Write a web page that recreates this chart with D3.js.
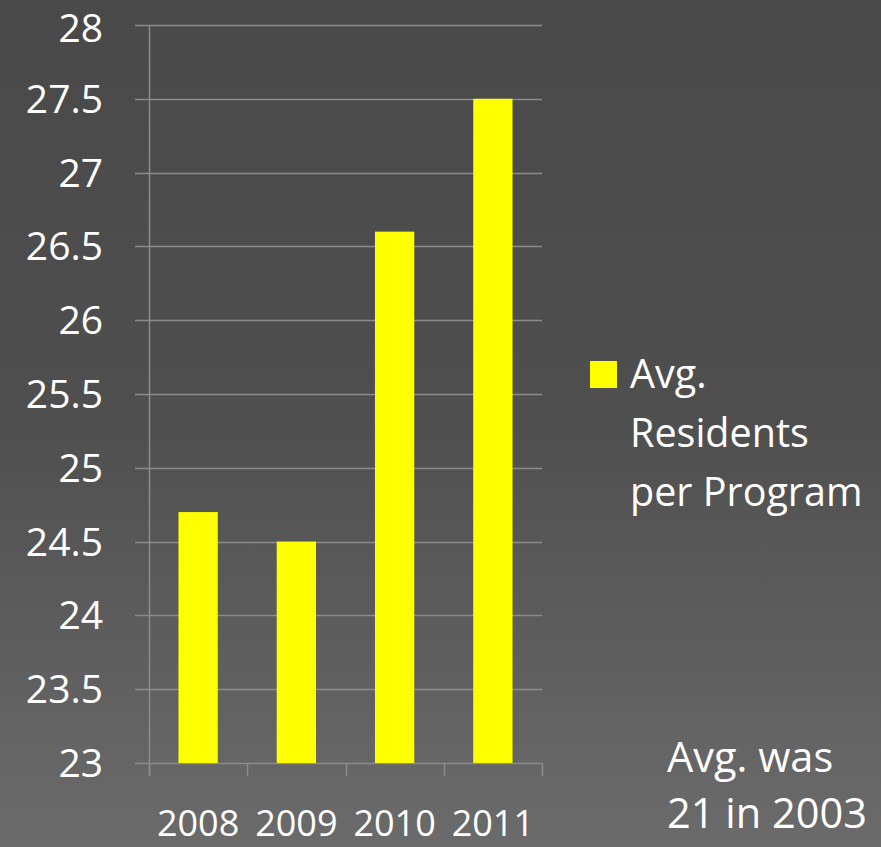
<!DOCTYPE html>
<html>
<head>
<meta charset="utf-8">
<script src="https://cdnjs.cloudflare.com/ajax/libs/d3/7.8.5/d3.min.js"></script>
<style>
  html, body { margin: 0; padding: 0; background: #4a4a4a; }
  svg { display: block; font-family: "Open Sans", "Noto Sans", sans-serif; }
</style>
</head>
<body>
<svg id="chart" width="881" height="847"></svg>
<script>
const years = ['2008', '2009', '2010', '2011'];
const residents = [24.7, 24.5, 26.6, 27.5];
const yTicks = [23, 23.5, 24, 24.5, 25, 25.5, 26, 26.5, 27, 27.5, 28];
const legendLines = ['Avg.', 'Residents', 'per Program'];
const noteLines = ['Avg. was', '21 in 2003'];

const W = 881, H = 847;
const plot = { left: 149, right: 542, top: 25, bottom: 763 };

const svg = d3.select('#chart');

const grad = svg.append('defs').append('linearGradient')
  .attr('id', 'bg').attr('x1', 0).attr('y1', 0).attr('x2', 0).attr('y2', 1);
grad.append('stop').attr('offset', '0%').attr('stop-color', '#494949');
grad.append('stop').attr('offset', '50%').attr('stop-color', '#4f4f4f');
grad.append('stop').attr('offset', '100%').attr('stop-color', '#6b6b6b');

svg.append('rect').attr('width', W).attr('height', H).attr('fill', 'url(#bg)');

const x = d3.scaleBand()
  .domain(years)
  .range([plot.left, plot.right])
  .paddingInner(0.6)
  .paddingOuter(0.3);

const y = d3.scaleLinear()
  .domain([23, 28])
  .range([plot.bottom, plot.top]);

const gridColor = '#8c8c8c';

// gridlines + left tick marks
svg.append('g')
  .selectAll('line')
  .data(yTicks)
  .enter().append('line')
  .attr('x1', plot.left - 14)
  .attr('x2', plot.right)
  .attr('y1', d => Math.round(y(d)) + 0.5)
  .attr('y2', d => Math.round(y(d)) + 0.5)
  .attr('stroke', gridColor)
  .attr('stroke-width', 1.5);

// y axis line
svg.append('line')
  .attr('x1', plot.left + 0.5).attr('x2', plot.left + 0.5)
  .attr('y1', plot.top).attr('y2', plot.bottom + 13)
  .attr('stroke', gridColor)
  .attr('stroke-width', 1.5);

// category boundary ticks
const step = x.step();
const bounds = years.map(d => x(d) - step * 0.3).concat([plot.right]);
svg.append('g')
  .selectAll('line')
  .data(bounds)
  .enter().append('line')
  .attr('x1', d => Math.round(d) + 0.5)
  .attr('x2', d => Math.round(d) + 0.5)
  .attr('y1', plot.bottom)
  .attr('y2', plot.bottom + 13)
  .attr('stroke', gridColor)
  .attr('stroke-width', 1.5);

// bars
svg.append('g')
  .selectAll('rect')
  .data(years)
  .enter().append('rect')
  .attr('x', d => x(d))
  .attr('width', x.bandwidth())
  .attr('y', (d, i) => y(residents[i]))
  .attr('height', (d, i) => y(23) - y(residents[i]))
  .attr('fill', '#ffff00');

// y labels (top one nudged so it stays inside the frame)
svg.append('g')
  .selectAll('text')
  .data(yTicks)
  .enter().append('text')
  .attr('x', 103)
  .attr('y', d => Math.max(y(d) + 14, 42))
  .attr('text-anchor', 'end')
  .attr('fill', '#ffffff')
  .attr('font-size', 39)
  .text(d => d);

// x labels
svg.append('g')
  .selectAll('text')
  .data(years)
  .enter().append('text')
  .attr('x', d => x(d) + x.bandwidth() / 2)
  .attr('y', 836)
  .attr('text-anchor', 'middle')
  .attr('fill', '#ffffff')
  .attr('font-size', 36)
  .text(d => d);

// legend
svg.append('rect')
  .attr('x', 590).attr('y', 361)
  .attr('width', 27).attr('height', 27)
  .attr('fill', '#ffff00');

svg.append('g')
  .selectAll('text')
  .data(legendLines)
  .enter().append('text')
  .attr('x', 630)
  .attr('y', (d, i) => 388 + i * 59)
  .attr('fill', '#ffffff')
  .attr('font-size', 39.5)
  .text(d => d);

// note
svg.append('g')
  .selectAll('text')
  .data(noteLines)
  .enter().append('text')
  .attr('x', 667)
  .attr('y', (d, i) => 772 + i * 56)
  .attr('fill', '#ffffff')
  .attr('font-size', 41.5)
  .text(d => d);
</script>
</body>
</html>
